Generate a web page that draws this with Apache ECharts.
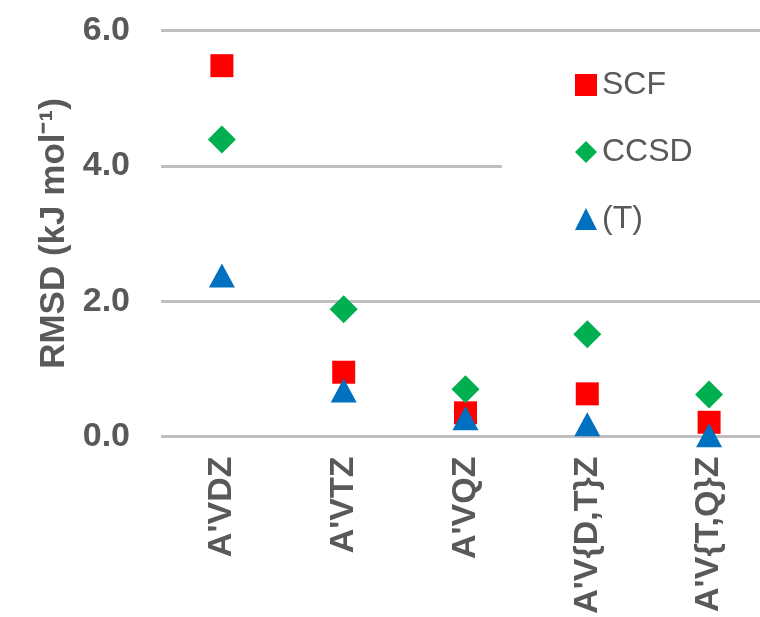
<!DOCTYPE html>
<html>
<head>
<meta charset="utf-8">
<script src="https://cdn.jsdelivr.net/npm/echarts@6/dist/echarts.min.js"></script>
<style>
html,body{margin:0;padding:0;background:#fff;}
#c{width:760px;height:617px;}
</style>
</head>
<body>
<div id="c"></div>
<script>
const categories = ["A'VDZ", "A'VTZ", "A'VQZ", "A'V{D,T}Z", "A'V{T,Q}Z"];
const scf  = [5.48, 0.95, 0.35, 0.63, 0.21];
const ccsd = [4.39, 1.88, 0.70, 1.51, 0.62];
const pT   = [2.38, 0.68, 0.27, 0.18, 0.02];
const yTicks = [0, 2, 4, 6];

const FONT = "'Liberation Sans', Arial, sans-serif";
const idx = categories.map((c, i) => i);
const pts = arr => arr.map((v, i) => [i, v]);
const chart = echarts.init(document.getElementById('c'), null, {renderer: 'canvas'});
chart.setOption({
  animation: false,
  backgroundColor: '#ffffff',
  grid: {left: 161, right: 0, top: 30.5, bottom: 180.5, containLabel: false},
  legend: {
    orient: 'vertical',
    left: 502, top: 39,
    padding: [30, 120, 30, 73],
    backgroundColor: '#ffffff',
    itemWidth: 22, itemHeight: 22,
    itemGap: 35,
    textStyle: {fontFamily: FONT, fontSize: 32, color: '#595959', lineHeight: 31},
    data: [
      {name: 'SCF', icon: 'rect'},
      {name: 'CCSD', icon: 'diamond'},
      {name: '(T)', icon: 'triangle'}
    ]
  },
  xAxis: {
    type: 'value',
    min: -0.5, max: 4.418,
    axisLine: {show: false},
    axisTick: {show: false},
    splitLine: {show: false},
    axisLabel: {
      customValues: idx,
      rotate: 90, margin: 20, fontFamily: FONT, fontSize: 34, fontWeight: 'bold', color: '#595959',
      formatter: v => categories[Math.round(v)] || ''
    }
  },
  yAxis: {
    type: 'value',
    min: yTicks[0], max: yTicks[yTicks.length - 1], interval: 2,
    name: 'RMSD (kJ mol\u207B\u00B9)',
    nameLocation: 'middle',
    nameGap: 76,
    nameTextStyle: {fontFamily: FONT, fontSize: 35, fontWeight: 'bold', color: '#595959'},
    axisLine: {show: false},
    axisTick: {show: false},
    splitLine: {lineStyle: {color: '#BFBFBF', width: 3}},
    axisLabel: {margin: 31, fontFamily: FONT, fontSize: 34, fontWeight: 'bold', color: '#595959',
      formatter: v => v.toFixed(1)}
  },
  series: [
    {name: 'SCF', type: 'scatter', data: pts(scf), symbol: 'rect', symbolSize: 23,
      itemStyle: {color: '#FF0000', opacity: 1}},
    {name: 'CCSD', type: 'scatter', data: pts(ccsd), symbol: 'diamond', symbolSize: [28, 28],
      itemStyle: {color: '#00B050', opacity: 1}},
    {name: '(T)', type: 'scatter', data: pts(pT), symbol: 'triangle', symbolSize: [26, 24],
      itemStyle: {color: '#0070C0', opacity: 1}}
  ]
});
</script>
</body>
</html>
